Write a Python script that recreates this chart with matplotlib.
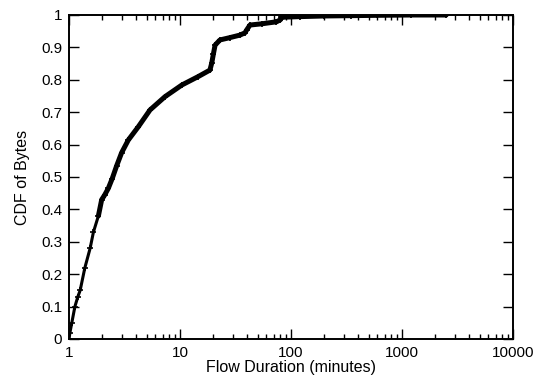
import matplotlib
matplotlib.use("Agg")
import matplotlib.pyplot as plt
from matplotlib.ticker import LogLocator, NullFormatter

plt.rcParams["font.family"] = ["Liberation Sans", "DejaVu Sans"]

# values
duration_min = [1.0, 1.02, 1.06, 1.13, 1.2, 1.26, 1.39, 1.55, 1.66, 1.84,
                1.97, 2.1, 2.26, 2.45, 2.69, 2.98, 3.42, 4.21, 5.37, 7.33,
                10.4, 14.6, 18.6, 19.3, 20.0, 20.7, 22.9, 28.0, 34.7, 38.5,
                39.9, 42.7, 55.0, 74.0, 80.0, 82.0, 120.0, 200.0, 350.0, 600.0,
                1200.0, 2500.0]
cdf_bytes = [0.0, 0.02, 0.05, 0.10, 0.13, 0.15, 0.22, 0.28, 0.33, 0.38,
             0.43, 0.445, 0.465, 0.495, 0.535, 0.575, 0.614, 0.655, 0.707, 0.748,
             0.784, 0.81, 0.83, 0.851, 0.88, 0.907, 0.923, 0.93, 0.938, 0.945,
             0.954, 0.969, 0.973, 0.979, 0.985, 0.993, 0.995, 0.997, 0.998, 0.999,
             1.0, 1.0]

x_ticks = [1, 10, 100, 1000, 10000]
x_labels = ["1", "10", "100", "1000", "10000"]
y_ticks = [0, 0.1, 0.2, 0.3, 0.4, 0.5, 0.6, 0.7, 0.8, 0.9, 1]
y_labels = ["0", "0.1", "0.2", "0.3", "0.4", "0.5", "0.6", "0.7", "0.8", "0.9", "1"]

fig = plt.figure(figsize=(5.35, 3.75), dpi=100)
ax = fig.add_axes([69 / 535, 36 / 375, 444 / 535, 324 / 375])

# sparse start: "+" points, dense part: points merge into a thick band
ax.plot(duration_min, cdf_bytes, color="black", lw=2.2, marker="+",
        ms=5, mew=1.2, solid_joinstyle="round")
ax.plot(duration_min[9:], cdf_bytes[9:], color="black", lw=3.6,
        solid_joinstyle="round", solid_capstyle="round")

ax.set_xscale("log")
ax.set_xlim(1, 10000)
ax.set_ylim(0, 1)
ax.set_xticks(x_ticks)
ax.set_xticklabels(x_labels)
ax.xaxis.set_minor_locator(LogLocator(base=10, subs=range(2, 10)))
ax.xaxis.set_minor_formatter(NullFormatter())
ax.set_yticks(y_ticks)
ax.set_yticklabels(y_labels)

ax.tick_params(which="major", direction="in", length=7, width=1,
               top=True, right=True, labelsize=11, pad=5)
ax.tick_params(which="minor", direction="in", length=3.5, width=1,
               top=True, right=True)
for s in ax.spines.values():
    s.set_linewidth(1.4)

ax.set_xlabel("Flow Duration (minutes)", fontsize=11.5, labelpad=0)
ax.set_ylabel("CDF of Bytes", fontsize=11.5, labelpad=8)

fig.savefig("out.png", dpi=100)
